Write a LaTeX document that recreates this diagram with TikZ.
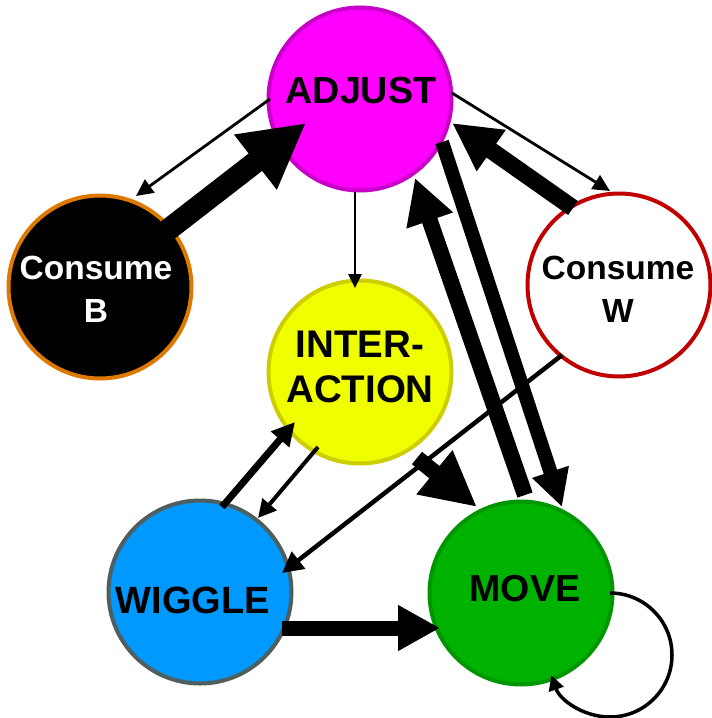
\documentclass[tikz,border=0pt]{standalone}
\usepackage{fontspec}
\setmainfont{Liberation Sans}
\usetikzlibrary{arrows.meta,calc}

\definecolor{adjFill}{HTML}{FF00FF}
\definecolor{adjLine}{HTML}{C800C8}
\definecolor{cbLine}{HTML}{DD7800}
\definecolor{cwLine}{HTML}{C00000}
\definecolor{intFill}{HTML}{F0FF00}
\definecolor{intLine}{HTML}{CDCD00}
\definecolor{wigFill}{HTML}{0099FF}
\definecolor{wigLine}{HTML}{4F5F5F}
\definecolor{movFill}{HTML}{00B200}
\definecolor{movLine}{HTML}{009600}

\begin{document}
\begin{tikzpicture}[x=1pt,y=-1pt,
  state/.style={circle, minimum size=183pt, inner sep=0pt, line width=4pt},
  txt/.style={inner sep=0pt, align=center},
  link/.style n args={3}{line width=#1, -{Triangle[length=#2,width=#3]}}]

% canvas
\fill[white] (0,0) rectangle (712,718);
\path[use as bounding box] (0,0) rectangle (712,718);

% states
\node[state, fill=adjFill, draw=adjLine] (adj)   at (360,99)  {};
\node[state, fill=black,   draw=cbLine]  (cb)    at (100,287) {};
\node[state, fill=white,   draw=cwLine]  (cw)    at (619,285) {};
\node[state, fill=intFill, draw=intLine] (inter) at (360,372) {};
\node[state, fill=wigFill, draw=wigLine] (wig)   at (200,592) {};
\node[state, fill=movFill, draw=movLine] (move)  at (521,593) {};

% transitions
\draw[link={2.8pt}{17pt}{16pt}] ($(adj)+(-90,0)$)  -- ($(cb)+(36,-91)$);
\draw[link={22pt}{64pt}{65pt}]  ($(cb)+(64,-54)$)  -- ($(adj)+(-54,24)$);
\draw[link={2.8pt}{17pt}{16pt}] ($(adj)+(92,-6)$)  -- ($(cw)+(-9,-94)$);
\draw[link={17pt}{48pt}{47pt}]  ($(cw)+(-46,-77)$) -- ($(adj)+(92,24)$);
\draw[link={2.8pt}{14pt}{13pt}] ($(adj)+(-5,93)$)  -- ($(inter)+(-5,-84)$);
\draw[link={14pt}{37pt}{36pt}]  ($(adj)+(82,43)$)  -- ($(move)+(41,-86)$);
\draw[link={16pt}{45pt}{46pt}]  ($(move)+(4,-98)$) -- ($(adj)+(55,79)$);
\draw[link={4pt}{18pt}{18pt}]   ($(inter)+(-42,75)$) -- ($(wig)+(58,-74)$);
\draw[link={7pt}{23pt}{23pt}]   ($(wig)+(22,-85)$) -- ($(inter)+(-65,50)$);
\draw[link={4.5pt}{21pt}{21pt}] ($(cw)+(-57,70)$)  -- ($(wig)+(82,-19)$);
\draw[link={16pt}{55pt}{53pt}]  ($(inter)+(57,86)$) -- ($(move)+(-44,-86)$);
\draw[link={15pt}{42pt}{43pt}]  ($(wig)+(82,36)$)  -- ($(move)+(-81,35)$);
\draw[link={3.5pt}{15pt}{15pt}] ($(move)+(89,0)$) arc[start angle=-90, end angle=161, radius=62];

% labels
\node[txt, anchor=base, font=\bfseries\fontsize{37.7pt}{45pt}\selectfont] (adjT) at (361,103) {ADJUST};
\node[txt, text=white, font=\bfseries\fontsize{33.5pt}{43pt}\selectfont] (cbT) at (96,289.5) {Consume\\B};
\node[txt, font=\bfseries\fontsize{33.5pt}{43pt}\selectfont] (cwT) at (618,289.5) {Consume\\W};
\node[txt, font=\bfseries\fontsize{38.5pt}{45pt}\selectfont] (intT) at (360,366.7) {INTER-\\ACTION};
\node[txt, anchor=base, font=\bfseries\fontsize{38pt}{45pt}\selectfont] (wigT) at (193,613) {WIGGLE};
\node[txt, anchor=base, font=\bfseries\fontsize{37.6pt}{45pt}\selectfont] (movT) at (525,601) {MOVE};
\end{tikzpicture}
\end{document}
